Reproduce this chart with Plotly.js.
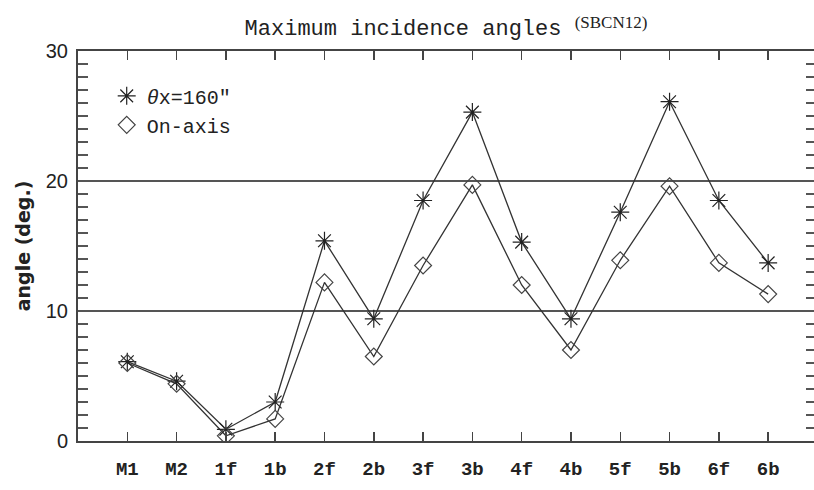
<!DOCTYPE html>
<html>
<head>
<meta charset="utf-8">
<script src="https://cdn.plot.ly/plotly-3.0.1.min.js"></script>
<style>html,body{margin:0;padding:0;background:#fff;}#chart{width:814px;height:490px;}</style>
</head>
<body>
<div id="chart"></div>
<script>
// Data
const categories = ["M1","M2","1f","1b","2f","2b","3f","3b","4f","4b","5f","5b","6f","6b"];
const offAxis160 = [6.1, 4.6, 0.9, 3.0, 15.4, 9.4, 18.5, 25.3, 15.3, 9.4, 17.6, 26.1, 18.5, 13.7];
const onAxis     = [6.0, 4.4, 0.4, 1.7, 12.2, 6.5, 13.5, 19.7, 12.0, 7.0, 13.9, 19.6, 13.7, 11.3];
const seriesNames = ["<i>θ</i>x=160″", "On-axis"];
const yTicks = [0, 10, 20, 30];

const lineCol = "#333";
const monoFont = "Liberation Mono, Courier New, monospace";

const traces = [
  {x: categories, y: offAxis160, mode: "lines", line: {color: lineCol, width: 1.3}, showlegend: false, hoverinfo: "skip"},
  {x: categories, y: onAxis, mode: "lines", line: {color: lineCol, width: 1.3}, showlegend: false, hoverinfo: "skip"},
  {x: categories, y: offAxis160, yaxis: "y2", mode: "markers", name: seriesNames[0],
   marker: {symbol: "asterisk-open", size: 15, color: "#222", line: {color: "#222", width: 1.2}}},
  {x: categories, y: onAxis, yaxis: "y2", mode: "markers", name: seriesNames[1],
   marker: {symbol: "diamond-open", size: 13, color: "#444", line: {color: "#444", width: 1.2}}}
];

const layout = {
  width: 814, height: 490,
  margin: {l: 78, r: 0, t: 51, b: 49},
  paper_bgcolor: "#fff", plot_bgcolor: "#fff",
  title: {
    text: "Maximum incidence angles <span style=\"font-family:Liberation Serif;font-size:17px;baseline-shift:40%\">(SBCN12)</span>",
    font: {family: monoFont, size: 22, color: "#222"},
    x: 0.5, xref: "paper", xanchor: "center",
    y: 1 - 20/490, yref: "container", yanchor: "top"
  },
  showlegend: true,
  legend: {
    x: 0.039, y: 0.935, xanchor: "left", yanchor: "top",
    bgcolor: "rgba(0,0,0,0)", borderwidth: 0,
    font: {family: monoFont, size: 20, color: "#222"},
    itemwidth: 30, tracegroupgap: 0
  },
  xaxis: {
    type: "category",
    range: [-1, 13.93],
    showline: true, linecolor: "#444", linewidth: 2, mirror: "ticks",
    ticks: "inside", ticklen: 9, tickwidth: 1.5, tickcolor: "#444",
    showgrid: false, zeroline: false,
    tickfont: {family: monoFont, size: 19, color: "#222", weight: "bold"},
    ticklabelstandoff: 9
  },
  yaxis: {
    range: [0, 30],
    tickvals: yTicks,
    showline: true, linecolor: "#444", linewidth: 2, mirror: false,
    ticks: "inside", ticklen: 10, tickwidth: 2, tickcolor: "#555",
    minor: {dtick: 1, ticks: "inside", ticklen: 10, tickwidth: 2, tickcolor: "#555"},
    showgrid: true, gridcolor: "#555", gridwidth: 2, zeroline: false,
    tickfont: {family: "Liberation Sans, Arial, sans-serif", size: 20, color: "#222"},
    ticklabelstandoff: 4,
    title: {text: "<b>angle (deg.)</b>", font: {family: "DejaVu Sans, sans-serif", size: 19, color: "#222"}, standoff: 10}
  },
  yaxis2: {
    range: [0, 30],
    overlaying: "y", side: "right", anchor: "x",
    tickvals: yTicks,
    showline: false, showgrid: false, zeroline: false, showticklabels: false,
    ticks: "inside", ticklen: 8, tickwidth: 2, tickcolor: "#555",
    minor: {dtick: 1, ticks: "inside", ticklen: 8, tickwidth: 2, tickcolor: "#555"}
  }
};

Plotly.newPlot("chart", traces, layout, {displayModeBar: false, staticPlot: true});
</script>
</body>
</html>
